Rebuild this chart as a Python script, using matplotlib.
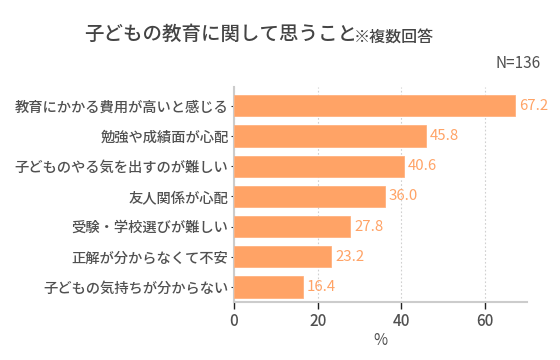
import matplotlib
matplotlib.use("Agg")
import matplotlib.pyplot as plt

plt.rcParams['font.family'] = ['Noto Sans CJK JP', 'DejaVu Sans']
plt.rcParams['font.weight'] = 'medium'

categories = [
    '教育にかかる費用が高いと感じる',
    '勉強や成績面が心配',
    '子どものやる気を出すのが難しい',
    '友人関係が心配',
    '受験・学校選びが難しい',
    '正解が分からなくて不安',
    '子どもの気持ちが分からない',
]
values = [67.2, 45.8, 40.6, 36.0, 27.8, 23.2, 16.4]
xticks = [0, 20, 40, 60]

bar_color = '#FFA366'
text_color = '#505050'

fig = plt.figure(figsize=(5.6, 3.6), dpi=100)
ax = fig.add_axes([0.418, 0.161, 0.523, 0.597])

pos = list(range(len(categories)))
ax.barh(pos, values, height=0.7, color=bar_color, edgecolor='#FFB27F', linewidth=0.6, zorder=3)
for p, v in zip(pos, values):
    ax.text(v + 1.0, p, f'{v:.1f}', va='center', ha='left',
            color=bar_color, fontsize=10.8, fontweight='normal', zorder=4)

ax.set_xlim(0, 70)
ax.set_ylim(6.5, -0.62)
ax.set_yticks(pos)
ax.set_yticklabels(categories, fontsize=10.3, color=text_color)
ax.set_xticks(xticks)
ax.set_xticklabels([str(t) for t in xticks], fontsize=11, color=text_color)
ax.tick_params(axis='y', length=2, width=0.8, color='#333333', pad=2)
ax.tick_params(axis='x', length=5, width=1.0, color='#222222', pad=3)
ax.set_xlabel('%', fontsize=11, color=text_color, labelpad=1)

ax.grid(axis='x', linestyle=(0, (1.5, 2)), color='#D0D0D0', linewidth=0.8, zorder=0)
for s in ['top', 'right']:
    ax.spines[s].set_visible(False)
for s in ['left', 'bottom']:
    ax.spines[s].set_color('#CCCCCC')
    ax.spines[s].set_linewidth(1.5)

fig.text(0.6375, 0.903, '子どもの教育に関して思うこと', ha='right', va='center',
         fontsize=14, color='#444444')
fig.text(0.632, 0.898, '※複数回答', ha='left', va='center',
         fontsize=11.5, color='#444444')
fig.text(0.965, 0.825, 'N=136', ha='right', va='center',
         fontsize=11, fontweight='normal', color=text_color)

fig.savefig('out.png', dpi=100)
